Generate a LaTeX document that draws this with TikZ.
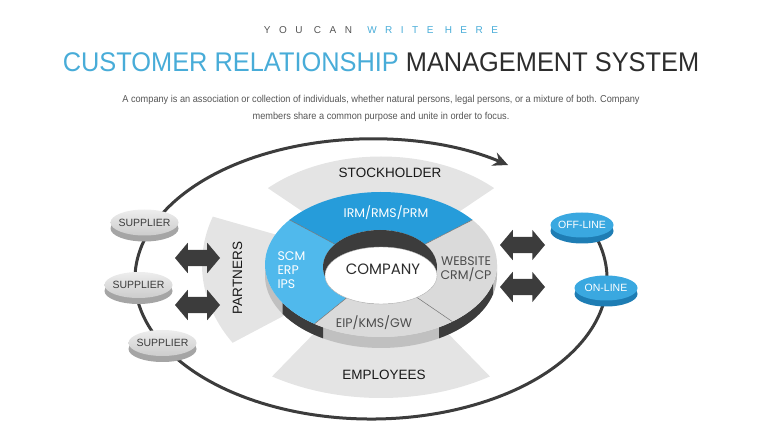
\documentclass[tikz,border=0pt]{standalone}
\usepackage{fontspec}
\setmainfont{Liberation Sans}
\newfontfamily\ringfont{Poppins}
\newfontfamily\spacedfont[LetterSpace=85]{Liberation Sans}
\usetikzlibrary{shapes.geometric,shapes.arrows,shadows,arrows.meta}
\definecolor{lightblue}{RGB}{72,172,216}
\definecolor{titledark}{RGB}{45,45,45}
\definecolor{bodygrey}{RGB}{85,85,85}
\definecolor{blueA}{RGB}{38,156,218}
\definecolor{blueB}{RGB}{80,185,236}
\definecolor{fangrey}{RGB}{228,228,228}
\definecolor{ringgrey}{RGB}{218,218,218}
\definecolor{sidegrey}{RGB}{192,192,192}
\definecolor{darkgrey}{RGB}{60,60,60}
\definecolor{discside}{RGB}{165,165,165}
\definecolor{discblue}{RGB}{58,168,224}
\definecolor{discblueside}{RGB}{30,125,180}
\tikzset{
  supplier/.style={ellipse,minimum width=68pt,minimum height=26pt,inner sep=0pt,
    top color=white!93!black,bottom color=white!80!black,text=darkgrey,
    font=\fontsize{10.5}{10.5}\selectfont,
    general shadow={fill=discside,shadow yshift=-6pt}},
  channel/.style={ellipse,minimum width=63pt,minimum height=25pt,inner sep=0pt,
    fill=discblue,text=white,font=\fontsize{10.5}{10.5}\selectfont,
    general shadow={fill=discblueside,shadow yshift=-6pt}},
  twoway/.style={double arrow,fill=darkgrey,minimum height=45pt,inner xsep=0pt,
    inner ysep=8pt,double arrow head extend=7pt,double arrow tip angle=100},
  fanlabel/.style={font=\fontsize{13.5}{13.5}\selectfont,text=black!90},
  ringlabel/.style={font=\ringfont\fontsize{12.5}{14}\selectfont},
  divider/.style={line width=0.5pt,black!55},
  loopline/.style={line width=3pt,darkgrey,-{Stealth[length=15pt,width=14pt,inset=5pt]}}
}
\begin{document}
\begin{tikzpicture}[x=1pt,y=1pt]
  \useasboundingbox (0,0) rectangle (760,428);
  \node (kicker) at (381,398) {\spacedfont\fontsize{10}{10}\selectfont
    \textcolor{bodygrey}{YOU CAN}\hspace{4pt} \textcolor{lightblue}{WRITE HERE}};
  \node (title) at (381,366) {\fontsize{27}{27}\selectfont\scalebox{0.94}[1]{%
    \textcolor{lightblue}{CUSTOMER RELATIONSHIP} \textcolor{titledark}{MANAGEMENT SYSTEM}}};
  \node[text=bodygrey] (desc1) at (381,328) {\fontsize{10}{10}\selectfont\scalebox{0.92}[1]{%
    A company is an association or collection of individuals, whether natural persons, legal persons, or a mixture of both. Company}};
  \node[text=bodygrey] (desc2) at (381,311) {\fontsize{10}{10}\selectfont\scalebox{0.92}[1]{%
    members share a common purpose and unite in order to focus.}};
  \draw[loopline] (371,149) ++(24:236 and 140)
    arc[start angle=24,end angle=-305.5,x radius=236,y radius=140];
  \fill[fangrey] (381,163.5) -- ++(45:160 and 108)
    arc[start angle=45,end angle=135,x radius=160,y radius=108] -- cycle;
  \fill[fangrey] (381,163.5) -- ++(237:200 and 133.5)
    arc[start angle=237,end angle=303,x radius=200,y radius=133.5] -- cycle;
  \fill[fangrey] (381,163.5) -- ++(160:179 and 140)
    arc[start angle=160,end angle=214,x radius=179,y radius=140] -- cycle;
  \fill[sidegrey] (381,163.5) ++(180:116 and 72.5)
    arc[start angle=180,end angle=360,x radius=116,y radius=72.5] -- ++(0,-11)
    arc[start angle=360,end angle=180,x radius=116,y radius=72.5] -- cycle;
  \foreach \a/\b in {212/240,300/345}
  {
    \fill[darkgrey] (381,163.5) ++(\a:116 and 72.5)
      arc[start angle=\a,end angle=\b,x radius=116,y radius=72.5] -- ++(0,-11)
      arc[start angle=\b,end angle=\a,x radius=116,y radius=72.5] -- cycle;
  }
  \foreach \a/\b/\c in {38/142/blueA,142/235/blueB,235/308/ringgrey,308/398/ringgrey}
  {
    \fill[\c] (381,163.5) ++(\a:116 and 72.5)
      arc[start angle=\a,end angle=\b,x radius=116,y radius=72.5]
      -- ([shift={(\b:57 and 37)}]380,161)
      arc[start angle=\b,end angle=\a,x radius=57,y radius=37] -- cycle;
  }
  \foreach \a in {38,142,235,308}
  {
    \draw[divider] ([shift={(\a:116 and 72.5)}]381,163.5) -- ([shift={(\a:57 and 37)}]380,161);
  }
  \fill[darkgrey] (380,161) ellipse[x radius=57,y radius=37];
  \filldraw[fill=white,draw=black!30] (381,152.5) ellipse[x radius=56,y radius=28.5];
  \node[ringlabel,text=titledark,font=\ringfont\fontsize{15}{15}\selectfont] (company) at (383,159) {COMPANY};
  \node[ringlabel,text=white] (irm) at (386,215.5) {IRM/RMS/PRM};
  \node[ringlabel,text=white,anchor=west,align=left] (scm) at (274,158) {SCM\\ERP\\IPS};
  \node[ringlabel,text=titledark!85,align=center] (web) at (466,158.5) {WEBSITE\\CRM/CP};
  \node[ringlabel,text=titledark!85] (eip) at (374,105) {EIP/KMS/GW};
  \node[fanlabel] (stock) at (390,255) {STOCKHOLDER};
  \node[fanlabel] (staff) at (384,53) {EMPLOYEES};
  \node[fanlabel,rotate=90] (partners) at (237.5,150) {PARTNERS};
  \foreach \y[count=\i] in {170,123}
  {
    \node[twoway] (left\i) at (197.5,\y) {};
  }
  \foreach \y[count=\i] in {183,141}
  {
    \node[twoway] (right\i) at (522.5,\y) {};
  }
  \foreach \x/\y[count=\i] in {144.5/205.5,138.5/143,162.5/85}
  {
    \node[supplier] (sup\i) at (\x,\y) {\makebox[0pt]{SUPPLIER}};
  }
  \node[channel] (offline) at (582,203) {\makebox[0pt]{OFF-LINE}};
  \node[channel] (online) at (606,140) {\makebox[0pt]{ON-LINE}};
\end{tikzpicture}
\end{document}
